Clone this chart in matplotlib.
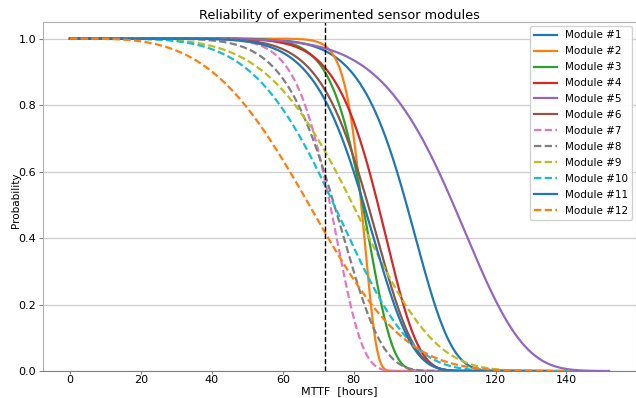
import numpy as np
import matplotlib
matplotlib.use("Agg")
import matplotlib.pyplot as plt

# Weibull reliability parameters per module
modules = [f"Module #{i}" for i in range(1, 13)]
eta = [98.3, 83.3, 84.8, 89.9, 113.4, 87.5, 75.8, 78.1, 85.9, 80.2, 86.5, 74.6]
beta = [10.5, 26.0, 13.6, 10.7, 7.74, 9.1, 11.2, 7.8, 4.96, 4.94, 8.6, 3.63]
t_end = [141, 125, 125, 130, 152, 135, 120, 125, 141, 141, 135, 141]
dashed = [False, False, False, False, False, False, True, True, True, True, False, True]
mttf_line = 72

fig = plt.figure(figsize=(6.36, 3.98), dpi=100)
ax = fig.add_axes([43/636, 27/398, 1 - 43/636, 349/398])

for name, e, b, te, d in zip(modules, eta, beta, t_end, dashed):
    t = np.linspace(0, te, 800)
    r = np.exp(-(t / e) ** b)
    if d:
        ax.plot(t, r, ls='--', dashes=(3.3, 1.5), lw=1.6, label=name)
    else:
        ax.plot(t, r, ls='-', lw=1.6, label=name)

ax.axvline(mttf_line, color='k', ls='--', lw=1.0)

ax.set_xlim(-7.6, 159.6)
ax.set_ylim(0, 1.05)
ax.set_xticks([0, 20, 40, 60, 80, 100, 120, 140])
ax.set_yticks([0.0, 0.2, 0.4, 0.6, 0.8, 1.0])
ax.grid(axis='y', color='#cfcfcf', lw=0.9)
ax.set_axisbelow(True)
for s in ax.spines.values():
    s.set_color('#b0b0b0')
ax.spines['bottom'].set_color('#808080')
ax.tick_params(axis='y', labelsize=8, color='#808080', length=3, pad=2)
ax.tick_params(axis='x', labelsize=8, color='#808080', length=2, pad=1)
ax.set_title("Reliability of experimented sensor modules", fontsize=9.3, pad=2.5)
ax.set_xlabel("MTTF  [hours]", fontsize=8)
ax.xaxis.set_label_coords(0.5, -0.044)
ax.set_ylabel("Probability", fontsize=7.5)
ax.yaxis.set_label_coords(-0.046, 0.49)
ax.yaxis.label.set_va('center')
ax.legend(loc='upper right', fontsize=7.5, labelspacing=0.57, handlelength=2.18,
          handletextpad=0.77, borderaxespad=0.4, framealpha=0.9)

fig.savefig("out.png", dpi=100)
